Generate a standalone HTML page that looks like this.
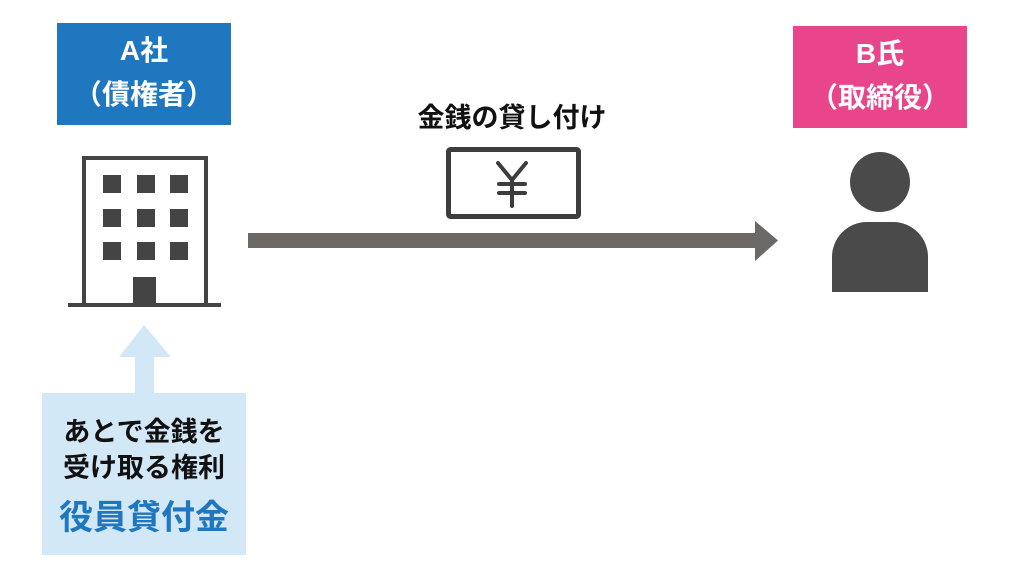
<!DOCTYPE html>
<html><head><meta charset="utf-8"><style>
html,body{margin:0;padding:0;background:#fff;width:1024px;height:576px;overflow:hidden}
body{position:relative;font-family:"Liberation Sans","Noto Sans CJK JP",sans-serif;font-weight:bold}
.box{position:absolute;color:#fff;text-align:center;font-size:28px;line-height:44px;box-sizing:border-box}
</style></head><body>
<div class="box" style="left:57px;top:23px;width:174px;height:102px;background:#1f77bf;padding-top:6px">A社<br>（債権者）</div>
<div class="box" style="left:793px;top:26px;width:174px;height:102px;background:#e8458b;padding-top:6px">B氏<br>（取締役）</div>
<div style="position:absolute;left:0;width:1024px;top:99px;text-align:center;font-size:27px;line-height:38px;color:#111">金銭の貸し付け</div>
<div class="box" style="left:42px;top:393px;width:204px;height:162px;background:#d3e8f6;color:#111;font-size:27px;line-height:36px;padding-top:21px">あとで金銭を<br>受け取る権利<br><span style="display:inline-block;margin-top:6px;color:#1f77bf;font-size:34px;line-height:52px">役員貸付金</span></div>
<svg width="1024" height="576" style="position:absolute;left:0;top:0">
<rect x="84" y="158" width="122" height="147" fill="none" stroke="#444" stroke-width="4"/>
<line x1="68" y1="305" x2="221" y2="305" stroke="#444" stroke-width="4"/>
<g fill="#444">
<rect x="103" y="175" width="18" height="18"/><rect x="137" y="175" width="18" height="18"/><rect x="170" y="175" width="18" height="18"/>
<rect x="103" y="209" width="18" height="18"/><rect x="137" y="209" width="18" height="18"/><rect x="170" y="209" width="18" height="18"/>
<rect x="103" y="242" width="18" height="18"/><rect x="137" y="242" width="18" height="18"/><rect x="170" y="242" width="18" height="18"/>
<rect x="133" y="277" width="23" height="28"/>
</g>
<polygon points="144,325 171,357 154,357 154,393 135,393 135,357 119,357" fill="#d3e8f6"/>
<polygon points="248,233 755,233 755,221 778,240.5 755,261 755,248 248,248" fill="#6b6866"/>
<rect x="448.5" y="149.5" width="130" height="67" rx="2" fill="#fff" stroke="#3d3d3d" stroke-width="5"/>
<g stroke="#3d3d3d" stroke-width="4" stroke-linecap="round" fill="none">
<polyline points="498,163 512,180 526,163"/>
<line x1="512" y1="180" x2="512" y2="206"/>
<line x1="499" y1="184" x2="525" y2="184"/>
<line x1="499" y1="193" x2="525" y2="193"/>
</g>
<circle cx="880" cy="182" r="30" fill="#4a4a4a"/>
<path d="M832 292 L832 257 A35 35 0 0 1 867 222 L893 222 A35 35 0 0 1 928 257 L928 292 Z" fill="#4a4a4a"/>
</svg>
</body></html>
